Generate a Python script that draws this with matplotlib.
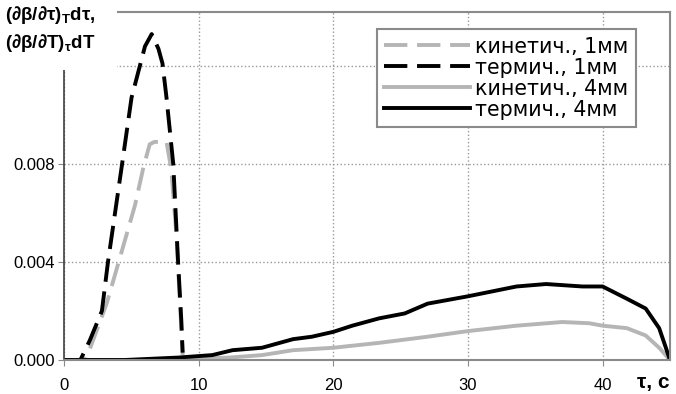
import matplotlib.pyplot as plt
from matplotlib.patches import Rectangle

plt.rcParams['font.family'] = ['Liberation Sans', 'DejaVu Sans']

# kinetic, 1 mm (gray dashed)
kin1_t = [0.0, 1.5, 1.8, 3.15, 4.1, 5.25, 5.9, 6.35, 6.7, 7.6, 7.95, 8.35, 8.6, 8.8]
kin1_v = [0.0, 0.0, 0.0003, 0.0023, 0.0041, 0.0063, 0.0079, 0.0088, 0.0089, 0.0089, 0.0078, 0.0050, 0.0023, 0.0002]

# thermal, 1 mm (black dashed)
term1_t = [0.0, 1.2, 1.9, 2.8, 3.25, 4.3, 5.0, 6.0, 6.5, 7.0, 7.3, 7.6, 8.1, 8.45, 8.7, 8.8]
term1_v = [0.0, 0.0, 0.0008, 0.0020, 0.0040, 0.0080, 0.0107, 0.0128, 0.0133, 0.0127, 0.0121, 0.0107, 0.0080, 0.0041, 0.0016, 0.0003]

# kinetic, 4 mm (gray solid)
kin4_t = [0.0, 5.0, 9.0, 12.3, 14.7, 17.0, 20.0, 23.4, 27.0, 30.0, 33.6, 37.0, 39.0, 40.0, 41.8, 43.2, 44.2, 45.0]
kin4_v = [0.0, 0.0, 0.00003, 0.0001, 0.0002, 0.0004, 0.0005, 0.0007, 0.00095, 0.00118, 0.0014, 0.00155, 0.0015, 0.0014, 0.0013, 0.0010, 0.0005, 0.0]

# thermal, 4 mm (black solid)
term4_t = [0.0, 4.5, 8.5, 11.0, 12.5, 14.7, 17.0, 18.4, 20.0, 21.4, 23.4, 25.3, 27.0, 30.0, 31.8, 33.6, 35.8, 38.5, 40.0, 41.8, 43.2, 44.2, 44.7, 45.0]
term4_v = [0.0, 0.0, 0.0001, 0.0002, 0.0004, 0.0005, 0.00085, 0.00095, 0.00115, 0.0014, 0.0017, 0.0019, 0.0023, 0.0026, 0.0028, 0.0030, 0.0031, 0.0030, 0.0030, 0.0025, 0.0021, 0.0013, 0.0005, 0.0]

labels = ['кинетич., 1мм', 'термич., 1мм', 'кинетич., 4мм', 'термич., 4мм']
x_ticks = [0, 10, 20, 30, 40]
y_ticks = [0.0, 0.004, 0.008, 0.012]
# the 0.012 label sits under the axis title in the original
y_ticklabels = ['0.000', '0.004', '0.008', '']

fig = plt.figure(figsize=(6.76, 3.94), dpi=100)
ax = fig.add_axes([0.095, 0.0863, 0.896, 0.8832])

gray = '#b5b5b5'
lw = 2.8
ax.plot(kin1_t, kin1_v, color=gray, lw=lw, dashes=(6, 2.5), label=labels[0])
ax.plot(term1_t, term1_v, color='black', lw=lw, dashes=(6, 2.5), label=labels[1])
ax.plot(kin4_t, kin4_v, color=gray, lw=lw, label=labels[2])
ax.plot(term4_t, term4_v, color='black', lw=lw, label=labels[3])

ax.set_xlim(0, 45)
ax.set_ylim(0, 0.0142)
ax.set_xticks(x_ticks)
ax.set_yticks(y_ticks)
ax.set_yticklabels(y_ticklabels)
ax.grid(True, color='#999999', linestyle=':', linewidth=1.0)
ax.set_axisbelow(True)
for s in ax.spines.values():
    s.set_color('#8a8a8a')
    s.set_linewidth(1.5)
ax.spines['left'].set_color('#404040')
ax.spines['left'].set_linewidth(1.2)
ax.tick_params(axis='both', labelsize=12, length=4, color='#8a8a8a', pad=3)
ax.tick_params(axis='x', pad=9)

leg = ax.legend(loc='upper left', bbox_to_anchor=(0.516, 0.95),
                prop={'family': 'DejaVu Sans', 'size': 14.8},
                frameon=True, fancybox=False, framealpha=1, edgecolor='#8a8a8a',
                handlelength=4.2, handletextpad=0.25, labelspacing=0.05,
                borderpad=0.35, borderaxespad=0)
leg.get_frame().set_linewidth(1.5)

# white patch over the upper left corner, behind the axis title
fig.patches.append(Rectangle((0, 1 - 70 / 394), 117 / 676, 70 / 394,
                             transform=fig.transFigure, facecolor='white',
                             edgecolor='none', zorder=2))
fig.text(0.008, 0.99, '(∂β/∂τ)$_\\mathregular{T}$dτ,\n(∂β/∂T)$_\\mathregular{τ}$dT',
         fontsize=13.5, fontweight='bold', va='top', ha='left', zorder=3,
         linespacing=1.35)
fig.text(0.942, 0.028, 'τ, с', fontsize=15, fontweight='bold', va='center', ha='left')

fig.savefig('out.png', dpi=100)
